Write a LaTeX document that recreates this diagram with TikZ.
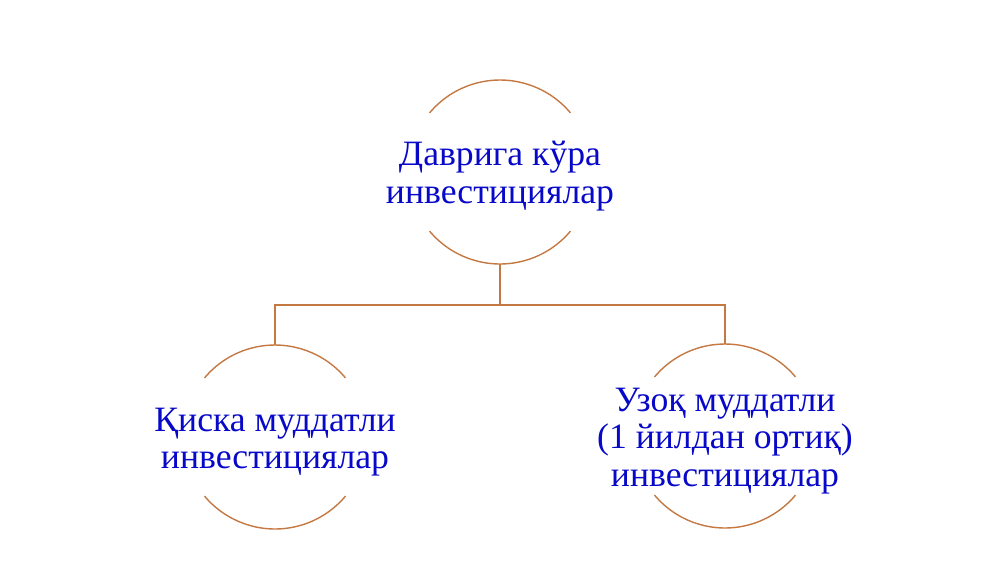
\documentclass[tikz,border=0pt]{standalone}
\usepackage{fontspec}
\setmainfont{Liberation Serif}
\usetikzlibrary{positioning}

\definecolor{ringbrown}{RGB}{196,120,66}
\definecolor{textblue}{RGB}{8,8,200}

\tikzset{
  ring/.style={circle, draw=none, inner sep=0pt, outer sep=0pt, minimum size=3.68cm},
  label text/.style={align=center, text=textblue, font=\fontsize{20.3}{21.3}\selectfont},
  arcline/.style={draw=ringbrown, line width=0.8pt},
  link/.style={draw=ringbrown, line width=0.8pt}
}

\begin{document}
\begin{tikzpicture}[x=0.02cm, y=0.02cm]
  \useasboundingbox (0,0) rectangle (1000,-562);

  % circles
  \node[ring] (period) at (500,-172) {};
  \node[ring] (short) at (275,-437) {};
  \node[ring] (long) at (725,-436) {};

  % texts
  \node[label text] (periodtext) at ([yshift=-0.08cm]period) {Даврига кўра\\инвестициялар};
  \node[label text] (shorttext) at ([yshift=-0.1cm]short) {Қиска муддатли\\инвестициялар};
  \node[label text] (longtext) at ([yshift=-0.1cm]long) {Узоқ муддатли\\(1 йилдан ортиқ)\\инвестициялар};

  % arcs above and below the text
  \foreach \c in {period, short, long} {
    \draw[arcline] (\c.40) arc (40:140:1.84cm);
    \draw[arcline] (\c.-140) arc (-140:-40:1.84cm);
  }

  % tree lines
  \coordinate (split) at ([yshift=-0.82cm]period.south);
  \draw[link] (period.south) -- (split) -| (short.north);
  \draw[link] (split) -| (long.north);
\end{tikzpicture}
\end{document}
